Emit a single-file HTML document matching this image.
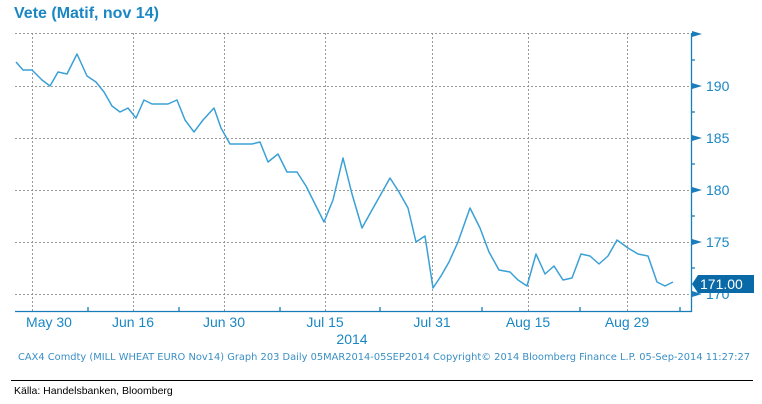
<!DOCTYPE html>
<html><head><style>
body{margin:0;background:#fff;}
svg{display:block;}
</style></head><body>
<svg width="762" height="404" xmlns="http://www.w3.org/2000/svg" font-family="Liberation Sans, sans-serif">
<text x="14" y="18" font-size="16" font-weight="bold" fill="#1a87c4">Vete (Matif, nov 14)</text>
<g stroke="#999" stroke-width="1" stroke-dasharray="2,2" fill="none">
<line x1="15" y1="33.5" x2="691" y2="33.5"/>
<line x1="15" y1="86.5" x2="691" y2="86.5"/>
<line x1="15" y1="138.5" x2="691" y2="138.5"/>
<line x1="15" y1="190.5" x2="691" y2="190.5"/>
<line x1="15" y1="242.5" x2="691" y2="242.5"/>
<line x1="15" y1="294.5" x2="691" y2="294.5"/>
<line x1="32.5" y1="33" x2="32.5" y2="311"/>
<line x1="133.5" y1="33" x2="133.5" y2="311"/>
<line x1="224.5" y1="33" x2="224.5" y2="311"/>
<line x1="325.5" y1="33" x2="325.5" y2="311"/>
<line x1="432.5" y1="33" x2="432.5" y2="311"/>
<line x1="528.5" y1="33" x2="528.5" y2="311"/>
<line x1="627.5" y1="33" x2="627.5" y2="311"/>
</g>
<g stroke="#1a7dbb" stroke-width="1.3" fill="none">
<line x1="15" y1="311.5" x2="692" y2="311.5"/>
<line x1="691.5" y1="33" x2="691.5" y2="312"/>
<line x1="88" y1="311" x2="88" y2="307"/><line x1="179" y1="311" x2="179" y2="307"/>
<line x1="280" y1="311" x2="280" y2="307"/><line x1="380" y1="311" x2="380" y2="307"/>
<line x1="482" y1="311" x2="482" y2="307"/><line x1="580" y1="311" x2="580" y2="307"/>
<line x1="680" y1="311" x2="680" y2="307"/>
<line x1="691" y1="60" x2="695" y2="60"/><line x1="691" y1="112" x2="695" y2="112"/>
<line x1="691" y1="164" x2="695" y2="164"/><line x1="691" y1="216" x2="695" y2="216"/>
<line x1="691" y1="268" x2="695" y2="268"/>
</g>
<g fill="#1a7dbb">
<polygon points="692,31 702,34 692,37"/>
<polygon points="692,83 702,86 692,89"/>
<polygon points="692,135 702,138 692,141"/>
<polygon points="692,187 702,190 692,193"/>
<polygon points="692,239 702,242 692,245"/>
<polygon points="692,291 702,294 692,297"/>
</g>
<g font-size="14" fill="#1a87c4">
<text x="706" y="91">190</text><text x="706" y="143">185</text>
<text x="706" y="195">180</text><text x="706" y="247">175</text>
<text x="706" y="299">170</text>
</g>
<polygon points="692,284 698,275 754,275 754,293 698,293" fill="#0a6aa8"/>
<text x="700" y="289" font-size="14" fill="#fff">171.00</text>
<polyline fill="none" stroke="#3aa0d6" stroke-width="1.5" stroke-linejoin="round" points="16,62 23,70 32,70 42,80 50,86 58,72 67,74 77,54 87,76 96,82 104,92 112,106 120,112 128,108 136,118 144,100 152,104 168,104 177,100 185,120 194,132 203,120 214,108 221,128 230,144 244,144 252,144 260,142 268,162 278,154 287,172 297,172 306,186 315,204 324,222 333,200 343,158 352,194 362,228 372,210 381,194 390,178 399,192 408,208 416,242 425,236 433,288 441,276 449,262 458,242 470,208 480,228 489,252 499,270 510,272 518,280 527,286 536,254 545,274 554,266 563,280 572,278 581,254 590,256 599,264 608,256 617,240 628,248 638,254 648,256 657,282 665,286 673,282"/>
<g font-size="14" fill="#1a87c4" text-anchor="middle">
<text x="49" y="327">May 30</text><text x="133" y="327">Jun 16</text>
<text x="224" y="327">Jun 30</text><text x="325" y="327">Jul 15</text>
<text x="432" y="327">Jul 31</text><text x="528" y="327">Aug 15</text>
<text x="627" y="327">Aug 29</text><text x="352" y="344">2014</text>
</g>
<text x="18" y="360" font-size="9.3" fill="#3a8fc4" font-family="DejaVu Sans, sans-serif" textLength="732" lengthAdjust="spacingAndGlyphs">CAX4 Comdty (MILL WHEAT EURO  Nov14) Graph 203  Daily 05MAR2014-05SEP2014  Copyright© 2014 Bloomberg Finance L.P.  05-Sep-2014 11:27:27</text>
<line x1="11" y1="380.5" x2="753" y2="380.5" stroke="#000" stroke-width="1"/>
<text x="14" y="394" font-size="10.5" fill="#000">Källa: Handelsbanken, Bloomberg</text>
</svg>
</body></html>
